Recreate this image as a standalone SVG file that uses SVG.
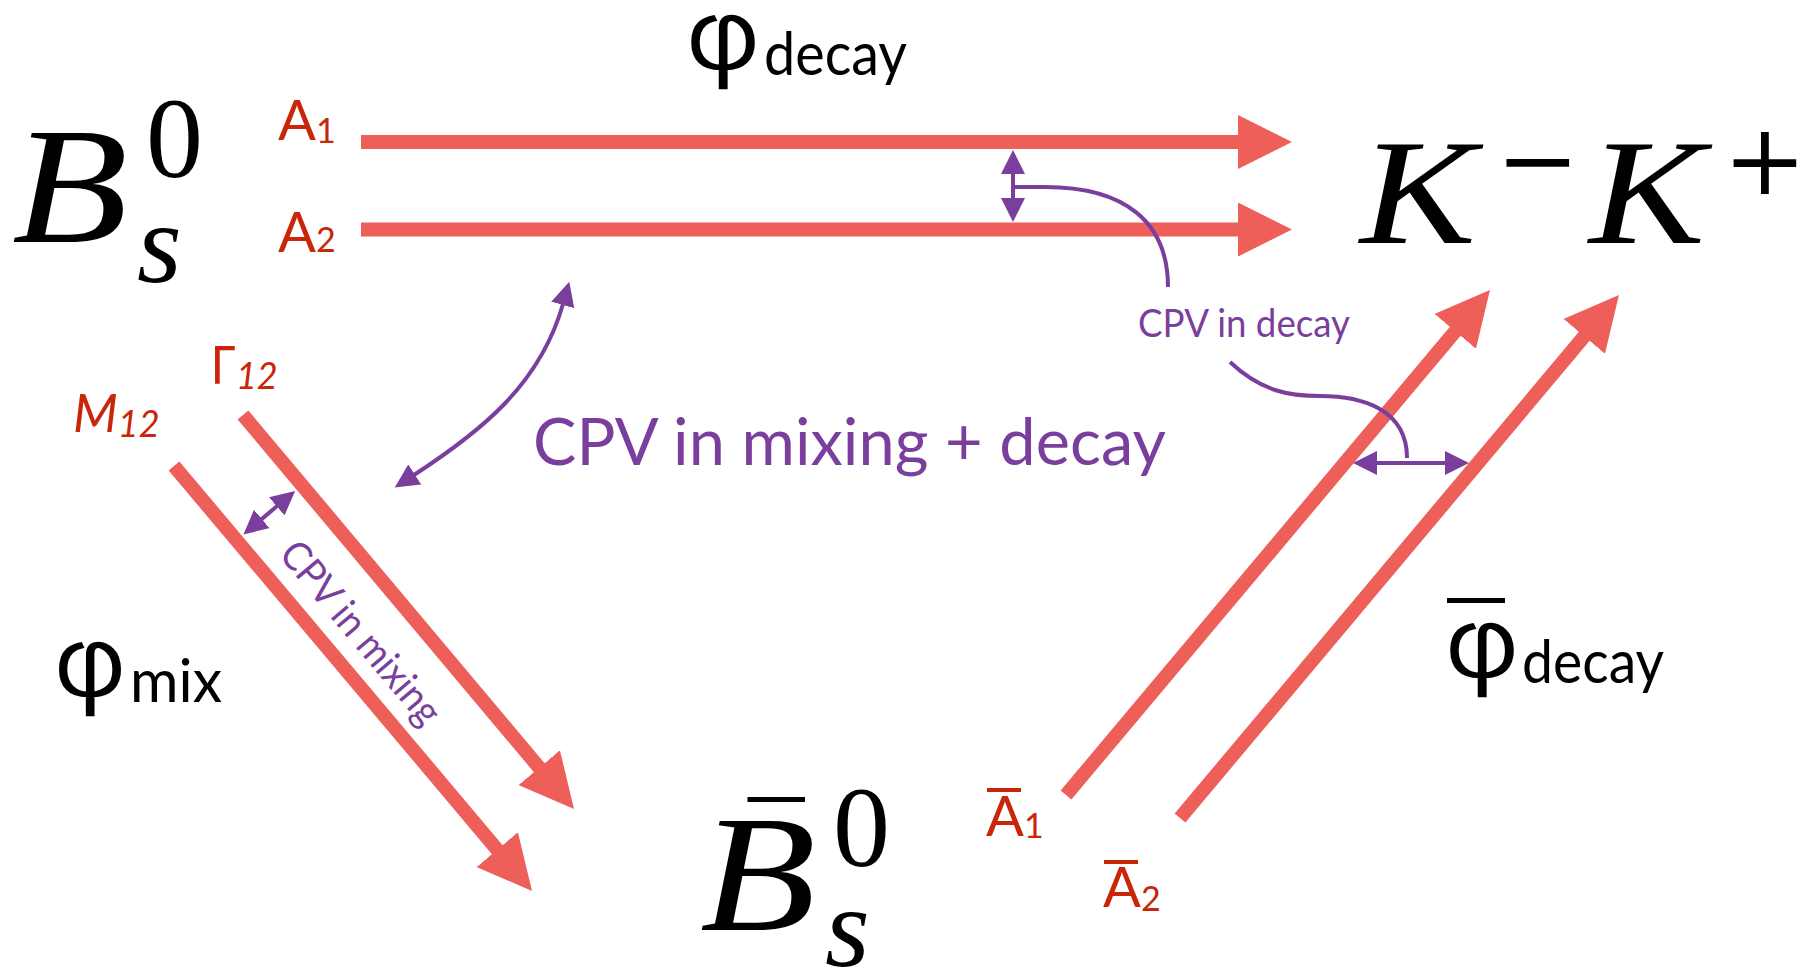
<svg xmlns="http://www.w3.org/2000/svg" width="1807" height="969" viewBox="0 0 1807 969">
<style>
.math{font-family:"Liberation Serif",serif;fill:#000}
.op{font-family:"DejaVu Serif",serif;fill:#000}
.it{font-style:italic}
.gs{font-family:Lato,"Noto Sans",sans-serif}
.greek{font-family:"DejaVu Sans",sans-serif;font-weight:200;fill:#000;stroke:#000;stroke-width:2.6}
.lbl{fill:#C8250A}
.cpv{fill:#7A3F9D}
.red{stroke:#EE5F5A;stroke-width:14;fill:none;marker-end:url(#headRed)}
.pur{stroke:#7A3F9D;stroke-width:4;fill:none}
.dbl{marker-start:url(#headPur);marker-end:url(#headPur)}
</style>
<defs>
<marker id="headRed" markerUnits="userSpaceOnUse" markerWidth="54" markerHeight="54" viewBox="0 0 54 54" refX="1" refY="27" orient="auto"><path d="M0,0 L54,27 L0,54 z" fill="#EE5F5A"/></marker>
<marker id="headPur" markerUnits="userSpaceOnUse" markerWidth="24" markerHeight="24" viewBox="0 0 24 24" refX="1" refY="12" orient="auto-start-reverse"><path d="M0,0 L24,12 L0,24 z" fill="#7A3F9D"/></marker>
</defs>
<rect width="1807" height="969" fill="#fff"/>

<g id="connectors">
<line class="red" x1="361" y1="142" x2="1239" y2="142"/>
<line class="red" x1="361" y1="229.5" x2="1239" y2="229.5"/>
<line class="red" x1="243" y1="415" x2="539.9" y2="768.4"/>
<line class="red" x1="174" y1="466" x2="497.9" y2="850.4"/>
<line class="red" x1="1066" y1="795" x2="1455.9" y2="330.6"/>
<line class="red" x1="1180" y1="818" x2="1584.9" y2="335.6"/>
<path class="pur dbl" d="M1013,173 L1013,199"/>
<path class="pur" d="M1013,187 L1045,187 C1125,187 1168,222 1168,287"/>
<path class="pur dbl" d="M1376,463 L1446,463"/>
<path class="pur" d="M1230,362 C1262,392 1290,396 1320,396 C1360,396 1407,408 1407,458"/>
<path class="pur dbl" d="M563,304 C540,385 480,432 414,475"/>
<path class="pur dbl" d="M261,519.6 L277.5,505.7"/>
</g>

<g id="Bs0">
<text class="math it" x="12" y="242" font-size="166" textLength="116" lengthAdjust="spacingAndGlyphs">B</text>
<text class="math" x="146" y="177" font-size="114">0</text>
<text class="math it" x="137" y="282" font-size="115">s</text>
</g>

<g id="KK">
<text class="math it" x="1360" y="243" font-size="151" textLength="116" lengthAdjust="spacingAndGlyphs">K</text>
<text class="op" x="1496" y="194" font-size="100">−</text>
<text class="math it" x="1589" y="243" font-size="151" textLength="116" lengthAdjust="spacingAndGlyphs">K</text>
<text class="op" x="1723" y="194" font-size="100">+</text>
</g>

<g id="Bsbar0">
<rect x="747.5" y="797" width="57.5" height="5" fill="#000"/>
<text class="math it" x="700" y="930" font-size="166" textLength="116" lengthAdjust="spacingAndGlyphs">B</text>
<text class="math" x="833" y="866" font-size="114">0</text>
<text class="math it" x="825" y="966" font-size="115">s</text>
</g>

<g id="labels">
<text class="gs lbl" x="278" y="140" font-size="56">A<tspan font-size="34" dy="3">1</tspan></text>
<text class="gs lbl" x="278" y="252" font-size="56">A<tspan font-size="34">2</tspan></text>
<rect x="987" y="788" width="34" height="4" fill="#C8250A"/>
<text class="gs lbl" x="986" y="836" font-size="56">A<tspan font-size="34" dy="2">1</tspan></text>
<rect x="1104" y="860" width="34" height="4" fill="#C8250A"/>
<text class="gs lbl" x="1103" y="907" font-size="56">A<tspan font-size="34" dy="4">2</tspan></text>
<text class="gs lbl" x="73" y="432" font-size="52" font-style="italic">M<tspan font-size="36" dy="5">12</tspan></text>
<text class="lbl" x="210" y="384" font-size="52" font-family="Noto Sans,sans-serif">Γ<tspan font-size="36" dy="5" font-style="italic" font-family="Lato,sans-serif">12</tspan></text>

<text class="greek" x="683" y="68" font-size="95" textLength="80" lengthAdjust="spacingAndGlyphs">φ</text>
<text class="gs" x="764" y="75" font-size="60" textLength="143" lengthAdjust="spacingAndGlyphs">decay</text>
<rect x="1447" y="598" width="58" height="5" fill="#000"/>
<text class="greek" x="1442" y="676" font-size="95" textLength="80" lengthAdjust="spacingAndGlyphs">φ</text>
<text class="gs" x="1522" y="683" font-size="60" textLength="142" lengthAdjust="spacingAndGlyphs">decay</text>
<text class="greek" x="51" y="695" font-size="95" textLength="78" lengthAdjust="spacingAndGlyphs">φ</text>
<text class="gs" x="130" y="702" font-size="60" textLength="92" lengthAdjust="spacingAndGlyphs">mix</text>

<text class="gs cpv" x="533" y="465" font-size="66" textLength="633" lengthAdjust="spacingAndGlyphs">CPV in mixing + decay</text>
<text class="gs cpv" x="1138" y="337" font-size="38" textLength="212" lengthAdjust="spacingAndGlyphs">CPV in decay</text>
<text class="gs cpv" transform="translate(277.7,555.1) rotate(49.9)" font-size="40" textLength="226" lengthAdjust="spacingAndGlyphs">CPV in mixing</text>
</g>
</svg>
